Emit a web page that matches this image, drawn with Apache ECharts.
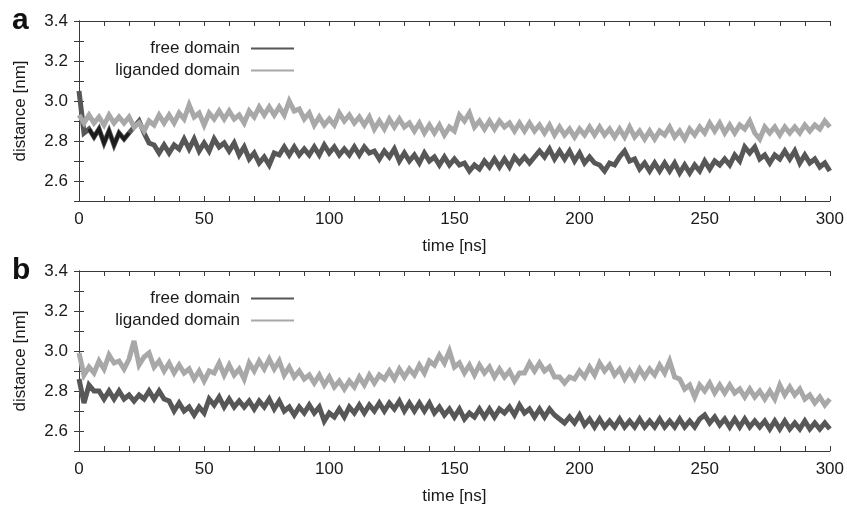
<!DOCTYPE html>
<html>
<head>
<meta charset="utf-8">
<script src="https://cdn.jsdelivr.net/npm/echarts@6/dist/echarts.min.js"></script>
<style>
html,body{margin:0;padding:0;background:#fff;}
#chart{width:847px;height:506px;}
</style>
</head>
<body>
<div id="chart"></div>
<script>
// time axis (ns)
const time = [0,2,4,6,8,10,12,14,16,18,20,22,24,26,28,30,32,34,36,38,40,42,44,46,48,50,52,54,56,58,60,62,64,66,68,70,72,74,76,78,80,82,84,86,88,90,92,94,96,98,100,102,104,106,108,110,112,114,116,118,120,122,124,126,128,130,132,134,136,138,140,142,144,146,148,150,152,154,156,158,160,162,164,166,168,170,172,174,176,178,180,182,184,186,188,190,192,194,196,198,200,202,204,206,208,210,212,214,216,218,220,222,224,226,228,230,232,234,236,238,240,242,244,246,248,250,252,254,256,258,260,262,264,266,268,270,272,274,276,278,280,282,284,286,288,290,292,294,296,298,300];

// panel a - free domain
const freeA = [3.05,2.84,2.86,2.82,2.86,2.79,2.85,2.78,2.84,2.81,2.84,2.87,2.90,2.84,2.79,2.78,2.74,2.78,2.74,2.78,2.76,2.81,2.76,2.81,2.75,2.79,2.75,2.81,2.77,2.79,2.75,2.79,2.73,2.77,2.71,2.74,2.69,2.72,2.68,2.74,2.73,2.77,2.73,2.77,2.73,2.76,2.73,2.77,2.73,2.78,2.74,2.77,2.73,2.76,2.73,2.77,2.73,2.77,2.74,2.75,2.71,2.75,2.72,2.76,2.70,2.74,2.70,2.73,2.69,2.74,2.70,2.72,2.68,2.72,2.68,2.71,2.68,2.69,2.65,2.68,2.66,2.70,2.67,2.71,2.67,2.71,2.67,2.72,2.69,2.72,2.69,2.72,2.75,2.72,2.76,2.71,2.75,2.71,2.75,2.70,2.74,2.69,2.72,2.69,2.68,2.65,2.69,2.68,2.72,2.75,2.70,2.71,2.66,2.69,2.65,2.69,2.65,2.69,2.65,2.69,2.64,2.68,2.64,2.68,2.65,2.70,2.66,2.70,2.68,2.71,2.68,2.73,2.70,2.77,2.74,2.77,2.71,2.73,2.69,2.73,2.71,2.75,2.71,2.75,2.69,2.73,2.69,2.71,2.67,2.69,2.65];
// panel a - liganded domain
const ligA = [2.93,2.89,2.93,2.89,2.92,2.88,2.93,2.89,2.92,2.89,2.92,2.87,2.89,2.85,2.90,2.88,2.93,2.89,2.93,2.89,2.94,2.91,2.98,2.92,2.94,2.88,2.94,2.91,2.95,2.91,2.95,2.91,2.93,2.89,2.95,2.92,2.97,2.93,2.97,2.93,2.97,2.93,3.00,2.95,2.96,2.91,2.94,2.88,2.92,2.88,2.91,2.88,2.94,2.90,2.93,2.89,2.92,2.88,2.92,2.86,2.90,2.86,2.91,2.87,2.91,2.87,2.89,2.85,2.89,2.84,2.88,2.84,2.88,2.83,2.87,2.85,2.93,2.90,2.94,2.87,2.90,2.86,2.90,2.86,2.90,2.87,2.89,2.85,2.89,2.85,2.89,2.85,2.88,2.84,2.88,2.83,2.87,2.83,2.86,2.82,2.86,2.83,2.87,2.83,2.87,2.83,2.86,2.82,2.86,2.82,2.87,2.82,2.85,2.81,2.85,2.81,2.85,2.83,2.87,2.82,2.85,2.81,2.86,2.83,2.87,2.84,2.89,2.85,2.89,2.84,2.88,2.84,2.88,2.86,2.90,2.84,2.81,2.87,2.84,2.87,2.83,2.87,2.84,2.87,2.84,2.88,2.85,2.88,2.86,2.90,2.87];
// panel b - free domain
const freeB = [2.86,2.74,2.83,2.80,2.80,2.76,2.80,2.76,2.80,2.76,2.78,2.75,2.78,2.76,2.80,2.76,2.80,2.76,2.75,2.70,2.74,2.70,2.72,2.68,2.72,2.69,2.76,2.73,2.77,2.72,2.76,2.72,2.75,2.72,2.75,2.71,2.75,2.72,2.76,2.71,2.75,2.70,2.72,2.68,2.72,2.69,2.73,2.69,2.72,2.65,2.69,2.67,2.71,2.67,2.72,2.69,2.73,2.69,2.73,2.70,2.74,2.70,2.74,2.71,2.75,2.70,2.74,2.70,2.74,2.70,2.74,2.69,2.72,2.68,2.71,2.67,2.71,2.66,2.69,2.67,2.71,2.67,2.71,2.67,2.71,2.69,2.72,2.68,2.73,2.69,2.71,2.67,2.71,2.67,2.71,2.68,2.66,2.64,2.67,2.64,2.68,2.63,2.66,2.62,2.66,2.62,2.65,2.62,2.66,2.62,2.65,2.62,2.66,2.62,2.65,2.62,2.66,2.62,2.65,2.62,2.66,2.62,2.65,2.62,2.66,2.68,2.64,2.67,2.63,2.66,2.62,2.66,2.62,2.66,2.62,2.65,2.62,2.65,2.61,2.65,2.61,2.65,2.61,2.64,2.61,2.65,2.61,2.64,2.61,2.64,2.61];
// panel b - liganded domain
const ligB = [2.99,2.88,2.92,2.89,2.95,2.91,2.98,2.94,2.95,2.91,2.96,3.05,2.93,2.97,2.99,2.92,2.95,2.90,2.94,2.89,2.93,2.89,2.91,2.86,2.90,2.85,2.90,2.89,2.94,2.88,2.93,2.88,2.91,2.86,2.94,2.90,2.95,2.91,2.96,2.91,2.95,2.88,2.92,2.87,2.90,2.86,2.88,2.84,2.88,2.83,2.87,2.82,2.85,2.81,2.85,2.82,2.87,2.83,2.88,2.84,2.88,2.86,2.90,2.86,2.91,2.87,2.91,2.88,2.93,2.89,2.95,2.93,2.98,2.94,3.00,2.92,2.94,2.89,2.93,2.88,2.93,2.89,2.92,2.87,2.91,2.87,2.90,2.85,2.89,2.89,2.94,2.90,2.94,2.90,2.92,2.87,2.87,2.84,2.87,2.86,2.90,2.87,2.92,2.88,2.94,2.90,2.93,2.88,2.91,2.86,2.90,2.86,2.91,2.87,2.91,2.88,2.93,2.89,2.95,2.87,2.86,2.81,2.83,2.77,2.83,2.80,2.84,2.79,2.83,2.79,2.83,2.79,2.81,2.77,2.81,2.77,2.80,2.76,2.80,2.76,2.83,2.78,2.82,2.78,2.81,2.76,2.78,2.74,2.77,2.73,2.76];

const yTickLabels = ['2.6','2.8','3.0','3.2','3.4'];
const xTickLabels = ['0','50','100','150','200','250','300'];
const seriesNames = ['free domain','liganded domain'];
const panelLabels = ['a','b'];

const FONT = '"Liberation Sans", Arial, Helvetica, sans-serif';
const TXT = '#1a1a1a';
const FRAME = '#3a3a3a';
const DARK = '#575757';
const LIGHT = '#a8a8a8';
const BLACK = '#1c1c1c';

const pairs = (xs, ys) => xs.map((t, i) => [t, ys[i]]);

function xAx(grid, pos) {
  const bottom = pos === 'bottom';
  return {
    type: 'value', gridIndex: grid, position: pos, min: 0, max: 300, interval: 10,
    name: bottom ? 'time [ns]' : '', nameLocation: 'middle', nameGap: 37,
    nameTextStyle: {fontFamily: FONT, fontSize: 17, color: TXT},
    axisLine: {show: true, lineStyle: {color: FRAME, width: 1}},
    axisTick: {show: true, inside: true, length: 5, lineStyle: {color: FRAME}},
    axisLabel: {show: bottom, margin: 10, fontFamily: FONT, fontSize: 17, color: TXT,
      formatter: v => xTickLabels.includes(String(Math.round(v))) ? String(Math.round(v)) : ''},
    splitLine: {show: false}
  };
}
function yAx(grid, pos) {
  const left = pos === 'left';
  return {
    type: 'value', gridIndex: grid, position: pos, min: 2.5, max: 3.4, interval: 0.1,
    name: left ? 'distance [nm]' : '', nameLocation: 'middle', nameGap: 50, nameRotate: 90,
    nameTextStyle: {fontFamily: FONT, fontSize: 17, color: TXT},
    axisLine: {show: true, lineStyle: {color: FRAME, width: 1}},
    axisTick: {show: true, inside: true, length: 5, lineStyle: {color: FRAME}},
    axisLabel: {show: left, margin: 11, fontFamily: FONT, fontSize: 17, color: TXT,
      formatter: v => { const s = v.toFixed(1); return yTickLabels.includes(s) ? s : ''; }},
    splitLine: {show: false}
  };
}
function line(name, grid, data, color, width) {
  return {
    name: name, type: 'line', xAxisIndex: grid * 2, yAxisIndex: grid * 2,
    data: data, showSymbol: false, symbol: 'none', animation: false,
    color: color, itemStyle: {color: color},
    lineStyle: {color: color, width: width || 5, join: 'miter', miterLimit: 4}
  };
}
function leg(name, top) {
  return {
    data: [name], right: 553, top: top, padding: 0, orient: 'horizontal', align: 'right',
    icon: 'rect', itemWidth: 43, itemHeight: 2, selectedMode: false,
    textStyle: {fontFamily: FONT, fontSize: 17, color: TXT, padding: [0, 6, 0, 0]}
  };
}

const chart = echarts.init(document.getElementById('chart'), null, {renderer: 'canvas'});
chart.setOption({
  backgroundColor: '#ffffff',
  animation: false,
  title: [
    {text: panelLabels[0], left: 12, top: 6, padding: 0, textStyle: {fontFamily: FONT, fontSize: 30, fontWeight: 'bold', color: '#111'}},
    {text: panelLabels[1], left: 12, top: 256, padding: 0, textStyle: {fontFamily: FONT, fontSize: 30, fontWeight: 'bold', color: '#111'}}
  ],
  legend: [leg(seriesNames[0], 40), leg(seriesNames[1], 62), leg(seriesNames[0], 290), leg(seriesNames[1], 312)],
  grid: [
    {left: 79, top: 21, width: 751, height: 180},
    {left: 79, top: 271, width: 751, height: 180}
  ],
  xAxis: [xAx(0, 'bottom'), xAx(0, 'top'), xAx(1, 'bottom'), xAx(1, 'top')],
  yAxis: [yAx(0, 'left'), yAx(0, 'right'), yAx(1, 'left'), yAx(1, 'right')],
  series: [
    line(seriesNames[0], 0, pairs(time, freeA), DARK),
    line('free domain (early)', 0, pairs(time.slice(2, 11), freeA.slice(2, 11)), BLACK, 3.5),
    line(seriesNames[1], 0, pairs(time, ligA), LIGHT),
    line(seriesNames[0], 1, pairs(time, freeB), DARK),
    line(seriesNames[1], 1, pairs(time, ligB), LIGHT)
  ]
});
</script>
</body>
</html>
